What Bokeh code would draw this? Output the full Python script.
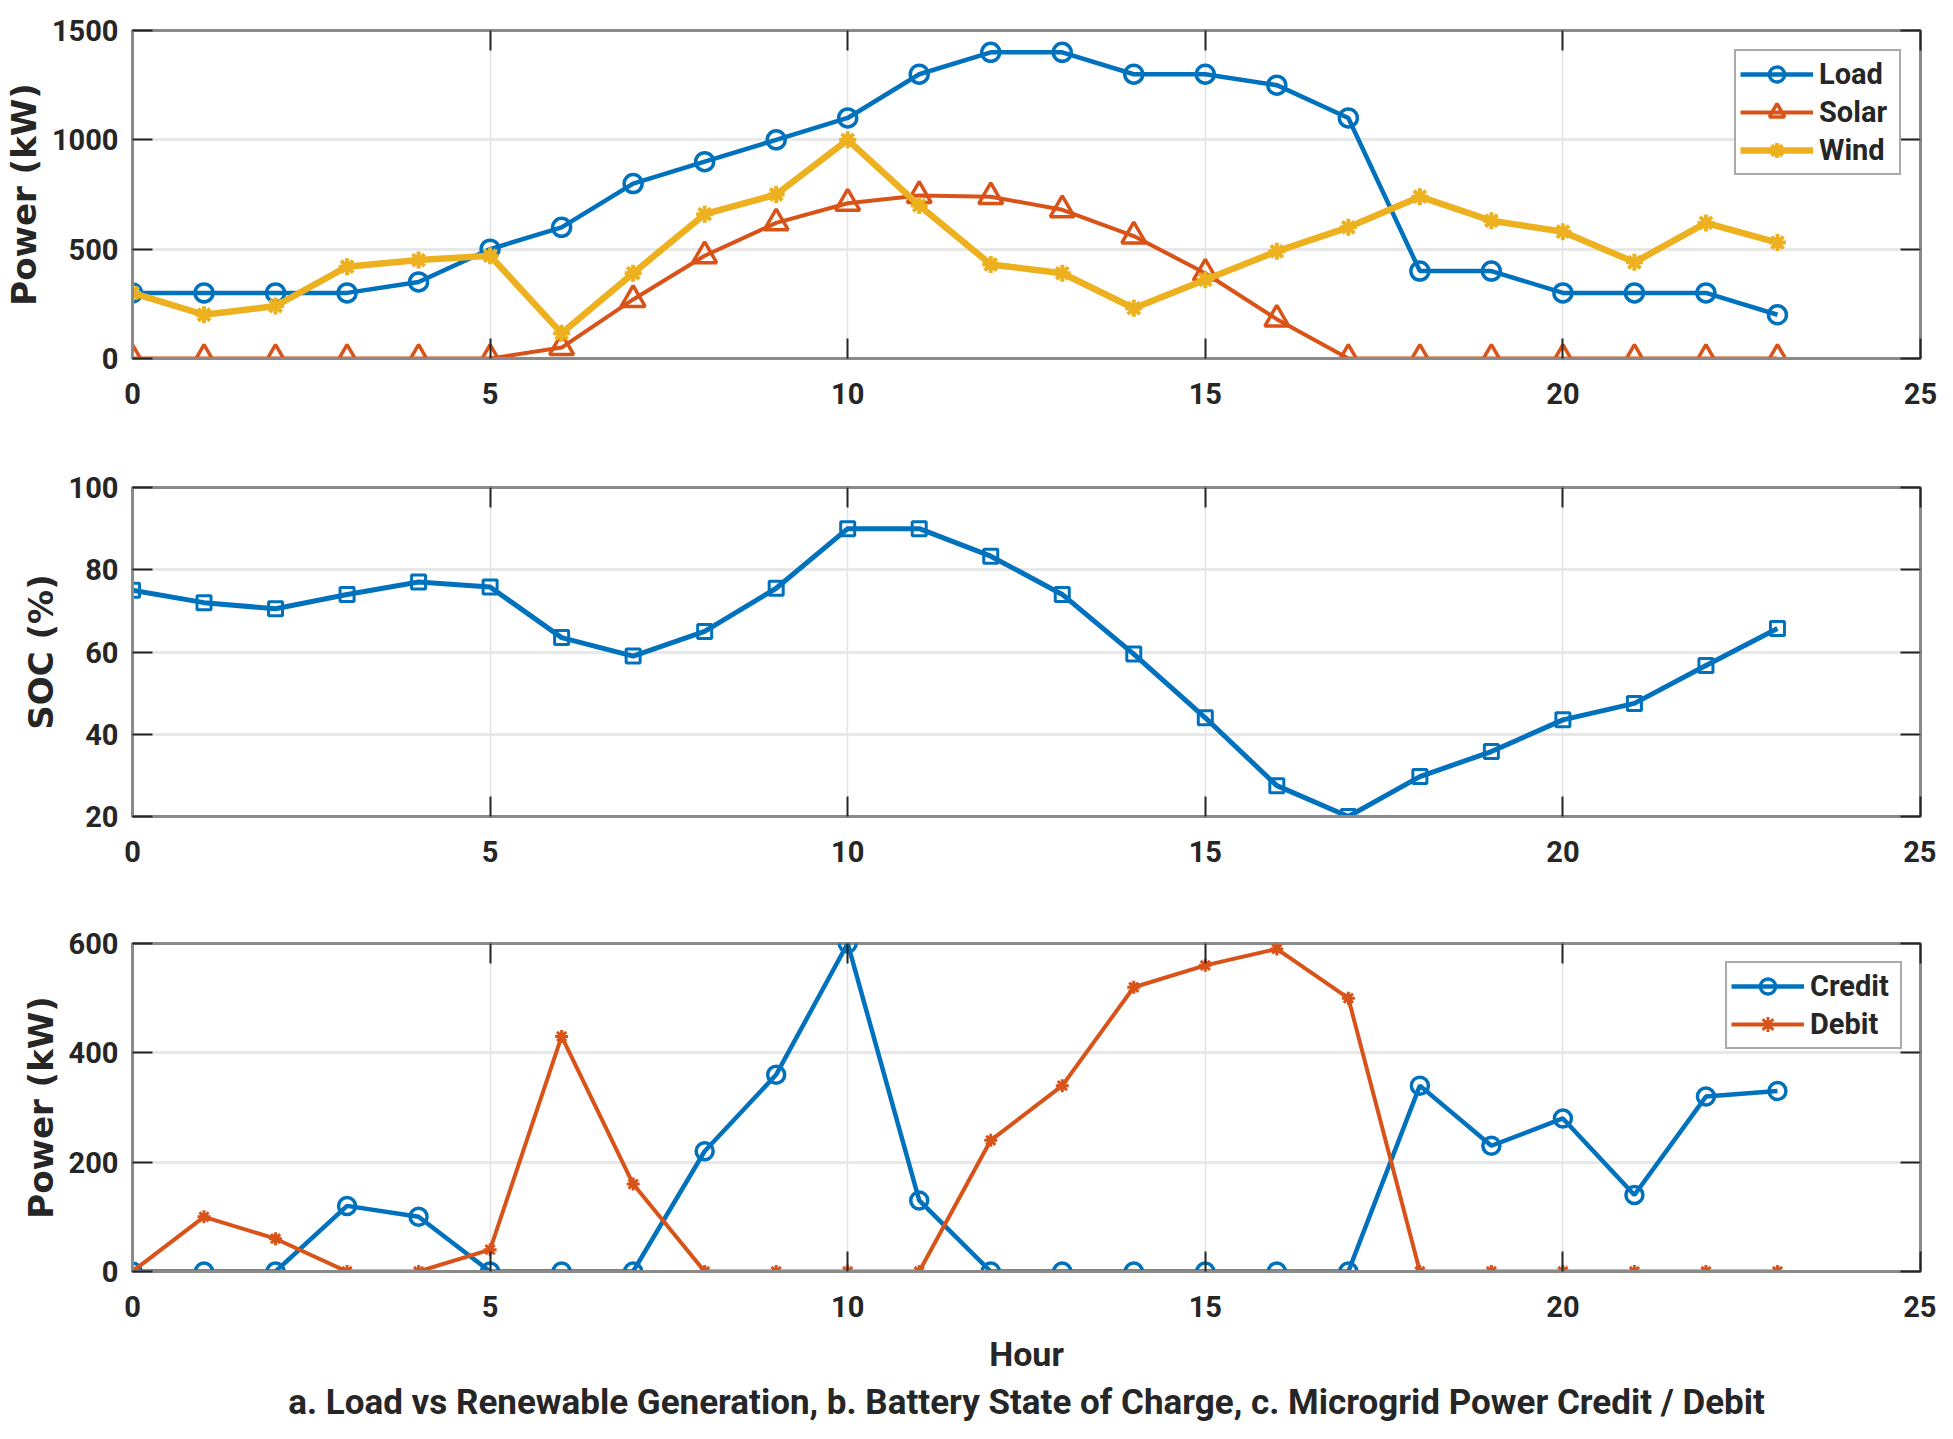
from bokeh.plotting import figure
from bokeh.layouts import column
from bokeh.models import LinearAxis, FixedTicker, Range1d, Title
from bokeh.embed import file_html
from bokeh.resources import INLINE

hours = list(range(24))
load = [300, 300, 300, 300, 350, 500, 600, 800, 900, 1000, 1100, 1300,
        1400, 1400, 1300, 1300, 1250, 1100, 400, 400, 300, 300, 300, 200]
solar = [0, 0, 0, 0, 0, 0, 50, 270, 470, 620, 710, 745,
         740, 680, 560, 390, 180, 0, 0, 0, 0, 0, 0, 0]
wind = [300, 200, 240, 420, 450, 470, 115, 390, 660, 750, 1000, 700,
        430, 390, 230, 360, 490, 600, 740, 630, 580, 440, 620, 530]
soc = [75, 72, 70.5, 74, 77, 75.8, 63.5, 59, 65, 75.5, 90, 90,
       83.3, 74, 59.5, 44, 27.5, 20, 29.7, 35.8, 43.5, 47.5, 56.7, 65.7]
credit = [0, 0, 0, 120, 100, 0, 0, 0, 220, 360, 600, 130,
          0, 0, 0, 0, 0, 0, 340, 230, 280, 140, 320, 330]
debit = [0, 100, 60, 0, 0, 40, 430, 160, 0, 0, 0, 0,
         240, 340, 520, 560, 590, 500, 0, 0, 0, 0, 0, 0]

x_ticks = [0, 5, 10, 15, 20, 25]

BLUE = "#0072BD"
ORANGE = "#D95319"
YELLOW = "#EDB120"
TXT = "#262626"
NARROW = "Roboto"
WIDE = "DejaVu Sans"
FRAME_W = 1788
LEFT = 127
RIGHT = 21


def make_fig(frame_h, top, bottom, yr, yticks, ylabel):
    p = figure(frame_width=FRAME_W, frame_height=frame_h, output_backend="svg",
               toolbar_location=None,
               x_range=Range1d(0, 25), y_range=Range1d(*yr),
               min_border_left=LEFT, min_border_right=RIGHT,
               min_border_top=top, min_border_bottom=bottom,
               background_fill_color="white", border_fill_color="white")
    p.outline_line_color = "#8a8a8a"
    p.outline_line_width = 3
    xb = p.xaxis[0]
    yl = p.yaxis[0]
    for ax in (xb, yl):
        ax.axis_line_color = "#8a8a8a"
        ax.axis_line_width = 3
        ax.major_tick_in = 20
        ax.major_tick_out = 0
        ax.minor_tick_line_color = None
        ax.major_tick_line_color = TXT
        ax.major_tick_line_width = 2
        ax.major_label_text_font = NARROW
        ax.major_label_text_font_style = "bold"
        ax.major_label_text_font_size = "29px"
        ax.major_label_text_color = TXT
    xb.ticker = FixedTicker(ticks=x_ticks)
    yl.ticker = FixedTicker(ticks=yticks)
    xb.major_label_standoff = 24
    yl.major_label_standoff = 14
    yl.axis_label = ylabel
    yl.axis_label_text_font = WIDE
    yl.axis_label_text_font_style = "bold"
    yl.axis_label_text_font_size = "34px"
    yl.axis_label_text_color = TXT
    yl.axis_label_standoff = 5
    # box ticks on top and right
    top_ax = LinearAxis(ticker=FixedTicker(ticks=x_ticks), axis_line_color=None,
                        major_tick_in=20, major_tick_out=0, minor_tick_line_color=None,
                        major_tick_line_color=TXT, major_tick_line_width=2,
                        major_label_text_color=None, major_label_text_font_size="1px",
                        major_label_standoff=0, axis_label_standoff=0)
    right_ax = LinearAxis(ticker=FixedTicker(ticks=yticks), axis_line_color=None,
                          major_tick_in=20, major_tick_out=0, minor_tick_line_color=None,
                          major_tick_line_color=TXT, major_tick_line_width=2,
                          major_label_text_color=None, major_label_text_font_size="1px",
                          major_label_standoff=0, axis_label_standoff=0)
    p.add_layout(top_ax, "above")
    p.add_layout(right_ax, "right")
    p.xgrid.grid_line_color = "#e3e3e3"
    p.xgrid.grid_line_width = 1.5
    p.ygrid.grid_line_color = "#e8e8e8"
    p.ygrid.grid_line_width = 3
    p.xgrid.ticker = FixedTicker(ticks=x_ticks)
    p.ygrid.ticker = FixedTicker(ticks=yticks)
    return p, xb


def style_legend(p, margin, label_w):
    lg = p.legend[0]
    lg.location = "top_right"
    lg.margin = margin
    lg.label_text_font = NARROW
    lg.label_text_font_style = "bold"
    lg.label_text_font_size = "29px"
    lg.label_text_color = TXT
    lg.glyph_width = 73
    lg.glyph_height = 38
    lg.label_height = 30
    lg.label_width = label_w
    lg.label_standoff = 6
    lg.spacing = 0
    lg.padding = 4
    lg.border_line_color = "#555555"
    lg.border_line_width = 2
    lg.background_fill_color = "white"
    lg.background_fill_alpha = 1


# Panel a
p1, _ = make_fig(328, 30, 61, (0, 1500), [0, 500, 1000, 1500], "Power (kW)")
p1.line(hours, load, line_color=BLUE, line_width=4.5, legend_label="Load")
p1.scatter(hours, load, marker="circle", size=18, line_color=BLUE, line_width=3.5,
           fill_color=None, legend_label="Load")
p1.line(hours, solar, line_color=ORANGE, line_width=4, legend_label="Solar")
p1.scatter(hours, solar, marker="triangle", size=24, line_color=ORANGE, line_width=3.5,
           fill_color=None, legend_label="Solar")
p1.line(hours, wind, line_color=YELLOW, line_width=6.5, legend_label="Wind")
p1.scatter(hours, wind, marker="asterisk", size=17, line_color=YELLOW, line_width=4,
           legend_label="Wind")
style_legend(p1, 19, 76)

# Panel b
p2, _ = make_fig(329, 68, 63, (20, 100), [20, 40, 60, 80, 100], "SOC (%)")
p2.line(hours, soc, line_color=BLUE, line_width=5)
p2.scatter(hours, soc, marker="square", size=14, line_color=BLUE, line_width=3,
           fill_color=None)

# Panel c
p3, xb3 = make_fig(328, 64, 140, (0, 600), [0, 200, 400, 600], "Power (kW)")
p3.line(hours, credit, line_color=BLUE, line_width=4.5, legend_label="Credit")
p3.scatter(hours, credit, marker="circle", size=17, line_color=BLUE, line_width=3.5,
           fill_color=None, legend_label="Credit")
p3.line(hours, debit, line_color=ORANGE, line_width=4, legend_label="Debit")
p3.scatter(hours, debit, marker="asterisk", size=13, line_color=ORANGE, line_width=3,
           legend_label="Debit")
style_legend(p3, 18, 86)
xb3.axis_label = "Hour"
xb3.axis_label_text_font = NARROW
xb3.axis_label_text_font_style = "bold"
xb3.axis_label_text_font_size = "34px"
xb3.axis_label_text_color = TXT
xb3.axis_label_standoff = 14
cap = Title(text="a. Load vs Renewable Generation, b. Battery State of Charge, c. Microgrid Power Credit / Debit",
            align="center", text_font=NARROW, text_font_style="bold",
            text_font_size="35px", text_color=TXT, standoff=6)
p3.add_layout(cap, "below")

layout = column(p1, p2, p3, spacing=0)
open("out.html", "w").write(file_html(layout, INLINE))
